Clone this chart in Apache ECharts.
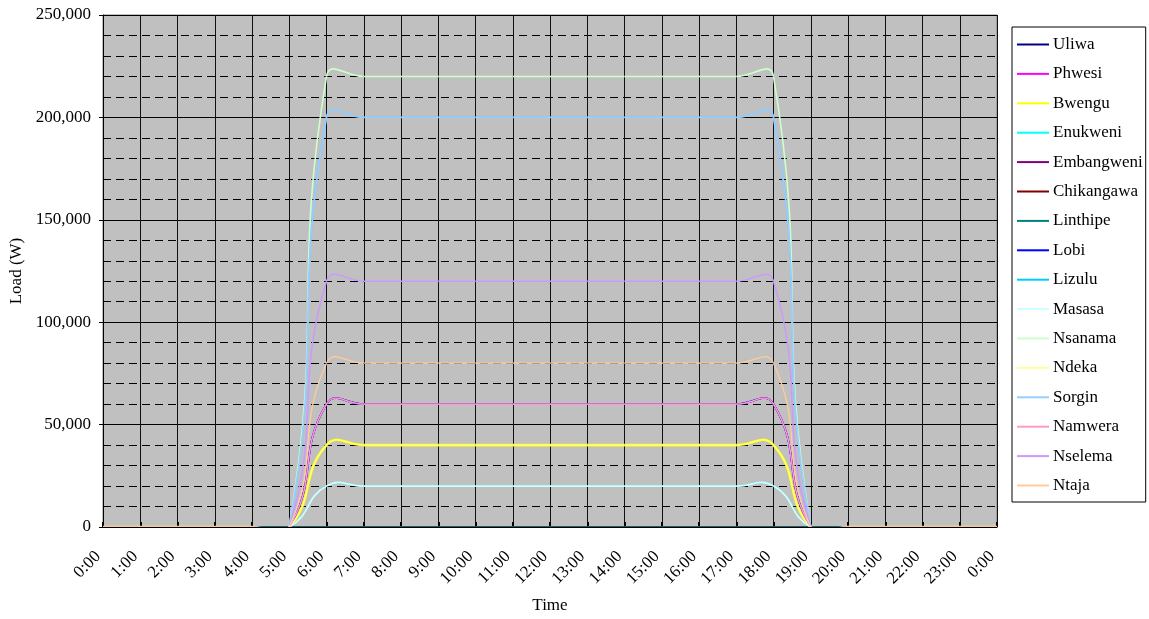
<!DOCTYPE html>
<html>
<head>
<meta charset="utf-8">
<title>Daily load profile</title>
<script src="https://cdn.jsdelivr.net/npm/echarts@6/dist/echarts.min.js"></script>
<style>
  html, body { margin: 0; padding: 0; background: #ffffff; }
  #chart { width: 1149px; height: 619px; }
</style>
</head>
<body>
<div id="chart"></div>
<script>
// Hour labels along the time axis (midnight to midnight)
const hours = ['0:00','1:00','2:00','3:00','4:00','5:00','6:00','7:00','8:00','9:00','10:00','11:00','12:00',
  '13:00','14:00','15:00','16:00','17:00','18:00','19:00','20:00','21:00','22:00','23:00','0:00'];

// Site names, in legend order
const sites = ['Uliwa','Phwesi','Bwengu','Enukweni','Embangweni','Chikangawa','Linthipe','Lobi',
  'Lizulu','Masasa','Nsanama','Ndeka','Sorgin','Namwera','Nselema','Ntaja'];

// Hourly load per site (W)
const uliwa      = [0,0,0,0,0,0,0,0,0,0,0,0,0,0,0,0,0,0,0,0,0,0,0,0,0];
const phwesi     = [0,0,0,0,0,0,60000,60000,60000,60000,60000,60000,60000,60000,60000,60000,60000,60000,60000,0,0,0,0,0,0];
const bwengu     = [0,0,0,0,0,0,40000,40000,40000,40000,40000,40000,40000,40000,40000,40000,40000,40000,40000,0,0,0,0,0,0];
const enukweni   = [0,0,0,0,0,0,20000,20000,20000,20000,20000,20000,20000,20000,20000,20000,20000,20000,20000,0,0,0,0,0,0];
const embangweni = [0,0,0,0,0,0,60000,60000,60000,60000,60000,60000,60000,60000,60000,60000,60000,60000,60000,0,0,0,0,0,0];
const chikangawa = [0,0,0,0,0,0,0,0,0,0,0,0,0,0,0,0,0,0,0,0,0,0,0,0,0];
const linthipe   = [0,0,0,0,0,0,0,0,0,0,0,0,0,0,0,0,0,0,0,0,0,0,0,0,0];
const lobi       = [0,0,0,0,0,0,60000,60000,60000,60000,60000,60000,60000,60000,60000,60000,60000,60000,60000,0,0,0,0,0,0];
const lizulu     = [0,0,0,0,0,0,200000,200000,200000,200000,200000,200000,200000,200000,200000,200000,200000,200000,200000,0,0,0,0,0,0];
const masasa     = [0,0,0,0,0,0,20000,20000,20000,20000,20000,20000,20000,20000,20000,20000,20000,20000,20000,0,0,0,0,0,0];
const nsanama    = [0,0,0,0,0,0,220000,220000,220000,220000,220000,220000,220000,220000,220000,220000,220000,220000,220000,0,0,0,0,0,0];
const ndeka      = [0,0,0,0,0,0,40000,40000,40000,40000,40000,40000,40000,40000,40000,40000,40000,40000,40000,0,0,0,0,0,0];
const sorgin     = [0,0,0,0,0,0,200000,200000,200000,200000,200000,200000,200000,200000,200000,200000,200000,200000,200000,0,0,0,0,0,0];
const namwera    = [0,0,0,0,0,0,60000,60000,60000,60000,60000,60000,60000,60000,60000,60000,60000,60000,60000,0,0,0,0,0,0];
const nselema    = [0,0,0,0,0,0,120000,120000,120000,120000,120000,120000,120000,120000,120000,120000,120000,120000,120000,0,0,0,0,0,0];
const ntaja      = [0,0,0,0,0,0,80000,80000,80000,80000,80000,80000,80000,80000,80000,80000,80000,80000,80000,0,0,0,0,0,0];

const siteLoads = [uliwa, phwesi, bwengu, enukweni, embangweni, chikangawa, linthipe, lobi,
  lizulu, masasa, nsanama, ndeka, sorgin, namwera, nselema, ntaja];

// Line colours and widths, one per site
const lineColors = ['#000080','#ff00ff','#ffff00','#00ffff','#800080','#800000','#008080','#0000ff',
  '#00ccff','#ccffff','#ccffcc','#ffff99','#99ccff','#ff99cc','#cc99ff','#ffcc99'];
const lineWidths = [1.5,1.5,2.6,1.2,1.5,1.5,1.5,1.7,1.2,1.7,1.6,1.1,1.8,1.6,1.5,1.3];

const FONT = '"Liberation Serif", "Times New Roman", serif';
const SMOOTH = 0.5;

// Catmull-Rom style control points, tangent split by neighbouring segment lengths (pixel space)
function controlOut(prev, cur, next) {
  if (!prev || !next) return cur.slice();
  const vx = next[0] - prev[0], vy = next[1] - prev[1];
  const lp = Math.hypot(cur[0] - prev[0], cur[1] - prev[1]);
  const ln = Math.hypot(next[0] - cur[0], next[1] - cur[1]);
  const r = ln / (lp + ln || 1);
  return [cur[0] + vx * SMOOTH * r, cur[1] + vy * SMOOTH * r];
}
function controlIn(prev, cur, next) {
  if (!prev || !next) return cur.slice();
  const vx = next[0] - prev[0], vy = next[1] - prev[1];
  const lp = Math.hypot(cur[0] - prev[0], cur[1] - prev[1]);
  const ln = Math.hypot(next[0] - cur[0], next[1] - cur[1]);
  const r = ln / (lp + ln || 1);
  return [cur[0] - vx * SMOOTH * (1 - r), cur[1] - vy * SMOOTH * (1 - r)];
}

function makeRenderer(color, width) {
  return function (params, api) {
    const i = params.dataIndexInside;
    const n = params.dataInsideLength;
    if (i >= n - 1) return null;
    const pt = j => api.coord([api.value(0, j), api.value(1, j)]);
    const p1 = pt(i), p2 = pt(i + 1);
    const p0 = i > 0 ? pt(i - 1) : null;
    const p3 = i + 2 < n ? pt(i + 2) : null;
    const c1 = controlOut(p0, p1, p2);
    const c2 = controlIn(p1, p2, p3);
    return {
      type: 'bezierCurve',
      shape: { x1: p1[0], y1: p1[1], x2: p2[0], y2: p2[1],
               cpx1: c1[0], cpy1: c1[1], cpx2: c2[0], cpy2: c2[1] },
      style: { stroke: color, lineWidth: width, fill: null },
      silent: true
    };
  };
}

const series = sites.map((name, k) => ({
  name: name,
  type: 'custom',
  clip: true,
  itemStyle: { color: lineColors[k] },
  renderItem: makeRenderer(lineColors[k], lineWidths[k]),
  data: siteLoads[k].map((v, i) => [i, v])
}));

const chart = echarts.init(document.getElementById('chart'), null, { renderer: 'canvas' });
chart.setOption({
  animation: false,
  color: lineColors,
  textStyle: { fontFamily: FONT, color: '#000' },
  grid: {
    left: 103, right: 152, top: 15, bottom: 92,
    outerBoundsMode: 'none',
    containLabel: false,
    show: true, backgroundColor: '#c0c0c0', borderColor: '#808080', borderWidth: 1
  },
  legend: {
    orient: 'vertical',
    left: 1012, top: 27,
    padding: [9, 3, 8, 5],
    backgroundColor: '#ffffff',
    borderColor: '#000000',
    borderWidth: 1,
    borderRadius: 0,
    icon: 'rect',
    itemWidth: 32,
    itemHeight: 2,
    itemGap: 12.4,
    textStyle: { fontFamily: FONT, fontSize: 17, color: '#000', lineHeight: 17, padding: [0, 0, 0, -1] },
    data: sites
  },
  xAxis: {
    type: 'category',
    data: hours,
    boundaryGap: false,
    name: 'Time',
    nameLocation: 'middle',
    nameGap: 70,
    nameTextStyle: { fontFamily: FONT, fontSize: 17, color: '#000' },
    axisLine: { lineStyle: { color: '#000', width: 1 } },
    axisTick: { show: true, inside: true, length: 5, lineStyle: { color: '#000', width: 2 } },
    axisLabel: { rotate: 45, margin: 22, padding: [0, 7, 0, 0], fontFamily: FONT, fontSize: 17, color: '#000', interval: 0 },
    splitLine: { show: true, lineStyle: { color: '#111', width: 1 } }
  },
  yAxis: {
    type: 'value',
    min: 0, max: 250000, interval: 50000,
    name: 'Load (W)',
    nameLocation: 'middle',
    nameRotate: 90,
    nameGap: 73,
    nameTextStyle: { fontFamily: FONT, fontSize: 17, color: '#000' },
    axisLine: { show: true, lineStyle: { color: '#000', width: 1 } },
    axisTick: { show: true, length: 4, lineStyle: { color: '#000' } },
    axisLabel: {
      margin: 12, fontFamily: FONT, fontSize: 17, color: '#000',
      formatter: v => v.toLocaleString('en-US')
    },
    splitLine: { show: true, lineStyle: { color: '#000', width: 1 } },
    minorTick: { show: false, splitNumber: 5 },
    minorSplitLine: { show: true, lineStyle: { color: '#000', width: 1, type: [8, 5] } }
  },
  series: series
});
</script>
</body>
</html>
